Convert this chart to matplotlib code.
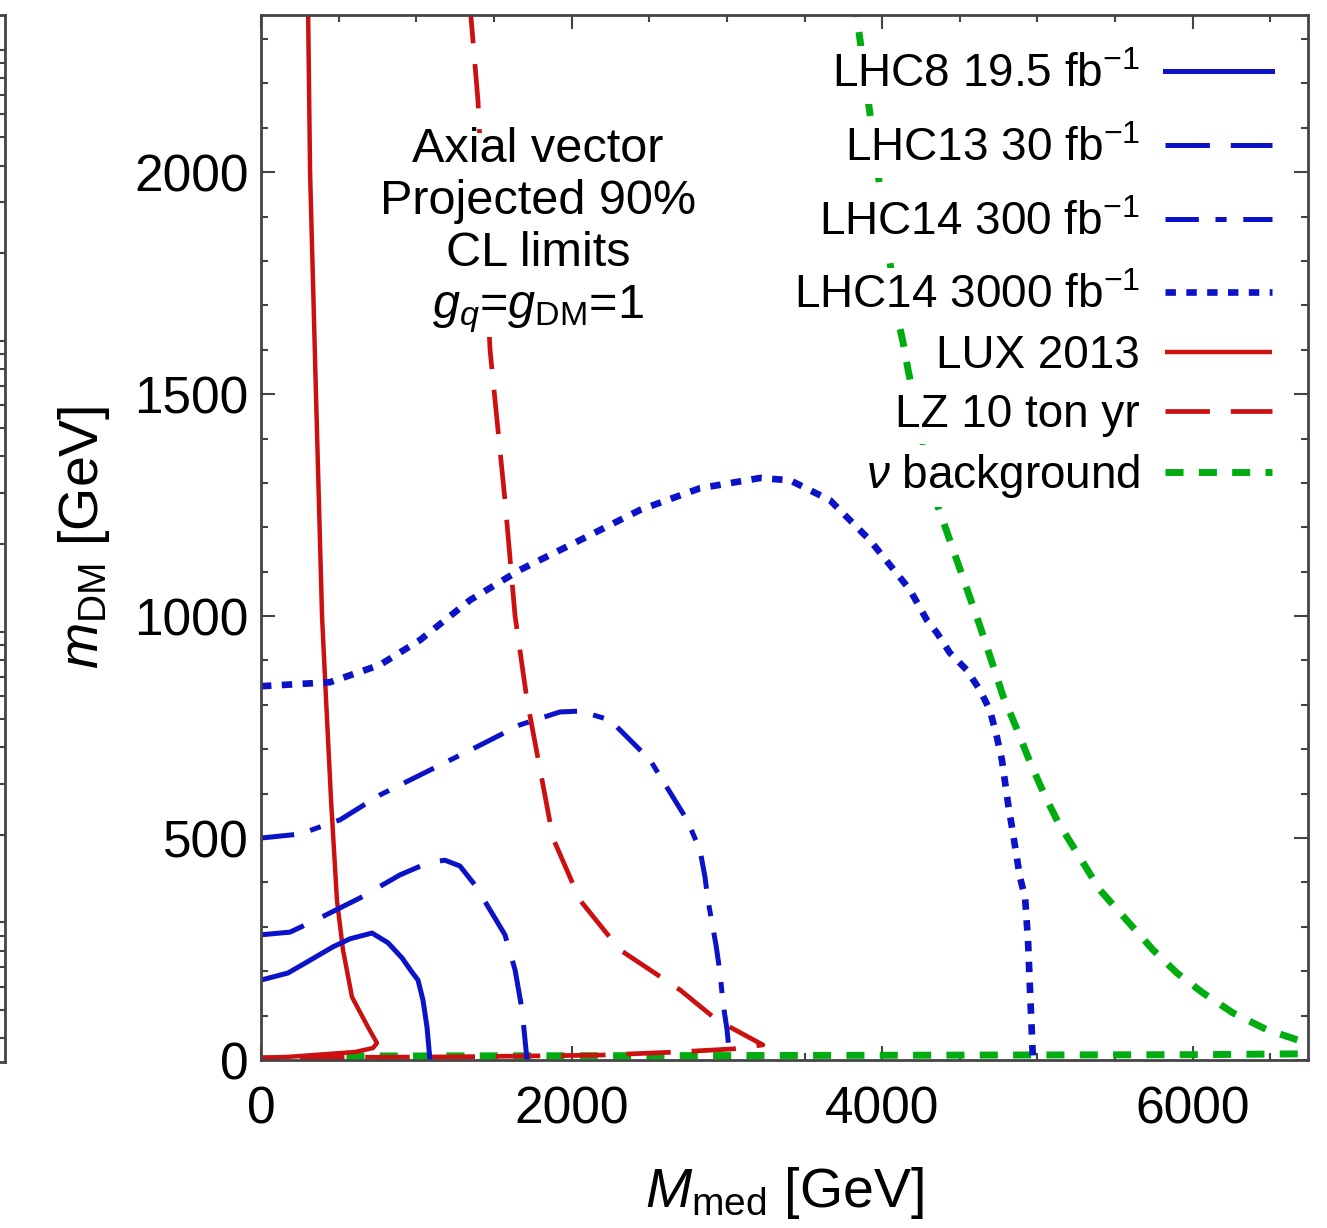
import matplotlib
matplotlib.use('Agg')
import matplotlib.pyplot as plt
from matplotlib.ticker import MultipleLocator, NullFormatter
import numpy as np

plt.rcParams['font.family'] = ['Liberation Sans', 'DejaVu Sans']
plt.rcParams['mathtext.fontset'] = 'custom'
plt.rcParams['mathtext.rm'] = 'Liberation Sans'
plt.rcParams['mathtext.it'] = 'Liberation Sans:italic'
plt.rcParams['mathtext.bf'] = 'Liberation Sans:bold'
plt.rcParams['lines.scale_dashes'] = False

## contour data (M_med, m_DM) in GeV

# LHC8 19.5 fb^-1
lhc8_x = [0, 174, 283, 464, 573, 715, 818, 908, 972, 1011, 1043, 1069, 1088]
lhc8_y = [180, 196, 218, 255, 273, 286, 264, 230, 198, 180, 135, 74, 0]

# LHC13 30 fb^-1
lhc13_x = [0, 187, 380, 637, 895, 1088, 1185, 1281, 1378, 1475, 1571, 1636, 1681, 1713]
lhc13_y = [282, 288, 320, 365, 417, 446, 450, 437, 394, 338, 282, 203, 113, 0]

# LHC14 300 fb^-1
lhc14a_x = [0, 251, 509, 766, 1088, 1410, 1668, 1925, 2054, 2247, 2505, 2743, 2827,
            2859, 2878, 2930, 2956, 2975, 3001, 3020]
lhc14a_y = [500, 509, 541, 597, 653, 709, 755, 784, 786, 766, 676, 541, 473,
            412, 360, 259, 196, 128, 68, 0]

# LHC14 3000 fb^-1
lhc14b_x = [0, 444, 766, 1024, 1346, 1668, 2054, 2440, 2827, 3213, 3406, 3664, 3921,
            4179, 4288, 4353, 4436, 4546, 4630, 4694, 4739, 4771, 4810, 4842, 4887,
            4920, 4939, 4952, 4971]
lhc14b_y = [842, 851, 890, 946, 1036, 1104, 1171, 1239, 1288, 1311, 1306, 1261, 1171,
            1059, 991, 962, 917, 878, 833, 788, 727, 676, 579, 511, 412,
            367, 270, 158, 0]

# LUX 2013
lux_x = [302, 316, 354, 393, 419, 451, 489, 528, 586, 689, 747, 721, 605, 174, 0]
lux_y = [2400, 2000, 1500, 1000, 811, 586, 360, 248, 142, 74, 38, 27, 18, 7, 5]

# LZ 10 ton yr
lz_x = [1340, 1397, 1475, 1571, 1636, 1713, 1880, 2054, 2312, 2698, 2936, 3232,
        3039, 2679, 2183, 1217, 0]
lz_y = [2400, 2162, 1599, 1261, 1000, 811, 500, 360, 248, 158, 90, 34,
        25, 18, 11, 7, 5]

# neutrino background, upper and lower branch
nu_x = [3818, 4096, 4134, 4166, 4327, 4630, 4707, 4778, 4868, 4952, 5048, 5132,
        5402, 5744, 5898, 6066, 6259, 6478, 6677, 6760]
nu_y = [2400, 1678, 1617, 1556, 1279, 977, 896, 820, 745, 671, 595, 536,
        383, 248, 196, 151, 106, 68, 45, 40]
nu_low_x = [550, 3000, 6000, 6760]
nu_low_y = [9, 10, 12, 14]

labels = [r'LHC8 19.5 fb$^{-1}$', r'LHC13 30 fb$^{-1}$', r'LHC14 300 fb$^{-1}$',
          r'LHC14 3000 fb$^{-1}$', 'LUX 2013', 'LZ 10 ton yr', r'$\nu$ background']

blue = '#0b12c8'
red = '#cc1010'
green = '#00ad10'

fig = plt.figure(figsize=(13.27, 12.28), dpi=100)
ax = fig.add_axes([261/1327, 1 - 1060/1228, 1047/1327, 1045/1228])

# neighbouring panel, only its right edge shows
axl = fig.add_axes([-0.1, 1 - 1062/1228, 0.1 + 5/1327, 1047/1228])
axl.set_yscale('log')
axl.set_ylim(10**-2.48, 10**1.12)
axl.set_xticks([])
axl.spines['left'].set_visible(False)
for s in axl.spines.values():
    s.set_linewidth(2)
    s.set_color('#444444')
axl.yaxis.tick_right()
axl.tick_params(axis='y', which='both', direction='in', color='#444444',
                labelright=False, width=1.5)
axl.tick_params(axis='y', which='major', length=9)
axl.tick_params(axis='y', which='minor', length=5)
axl.yaxis.set_minor_formatter(NullFormatter())

gn, = ax.plot(nu_x, nu_y, color=green, lw=5, dashes=(13, 11), dash_capstyle='butt',
              label=labels[6])
ax.plot(nu_low_x, nu_low_y, color=green, lw=5, dashes=(13, 11), dash_capstyle='butt')
lx, = ax.plot(lux_x, lux_y, color=red, lw=3.2, solid_capstyle='butt', label=labels[4])
lz, = ax.plot(lz_x, lz_y, color=red, lw=3.4, dashes=(32, 15), dash_capstyle='butt',
              label=labels[5])
l8, = ax.plot(lhc8_x, lhc8_y, color=blue, lw=3.6, label=labels[0])
l13, = ax.plot(lhc13_x, lhc13_y, color=blue, lw=3.6, dashes=(32, 15),
               dash_capstyle='butt', label=labels[1])
l14a, = ax.plot(lhc14a_x, lhc14a_y, color=blue, lw=3.6, dashes=(24, 12, 8, 12),
                dash_capstyle='butt', label=labels[2])
l14b, = ax.plot(lhc14b_x, lhc14b_y, color=blue, lw=4.8, dashes=(7.5, 7.5),
                dash_capstyle='butt', label=labels[3])

ax.set_xlim(0, 6742)
ax.set_ylim(0, 2354)
ax.xaxis.set_major_locator(MultipleLocator(2000))
ax.xaxis.set_minor_locator(MultipleLocator(500))
ax.yaxis.set_major_locator(MultipleLocator(500))
ax.yaxis.set_minor_locator(MultipleLocator(100))
ax.tick_params(which='both', direction='in', top=True, right=True, color='#444444',
               width=1.5, labelsize=37)
ax.tick_params(which='major', length=10)
ax.tick_params(which='minor', length=5)
ax.tick_params(axis='x', pad=18)
ax.tick_params(axis='y', pad=9)
for s in ax.spines.values():
    s.set_linewidth(2)
    s.set_color('#444444')

ax.set_xlabel(r'$M_{\mathrm{med}}$ [GeV]', fontsize=40, labelpad=22)
ax.set_ylabel(r'$m_{\mathrm{DM}}$ [GeV]', fontsize=40, labelpad=16)

ax.text(0.2646, 0.793, 'Axial vector\nProjected 90%\nCL limits\n$g_q$=$g_{\\mathrm{DM}}$=1',
        transform=ax.transAxes, ha='center', va='center', fontsize=35,
        linespacing=1.2, zorder=4,
        bbox=dict(facecolor='white', edgecolor='none', pad=1))

# legend in two blocks: the collider rows sit further apart
leg_kw = dict(loc='upper right', frameon=False, markerfirst=False, fontsize=33,
              handlelength=2.33, handletextpad=0.55, borderpad=0, borderaxespad=0)
leg1 = ax.legend(handles=[l8, l13, l14a, l14b], bbox_to_anchor=(0.9656, 0.9636),
                 labelspacing=0.65, **leg_kw)
ax.add_artist(leg1)
leg2 = ax.legend(handles=[lx, lz, gn], bbox_to_anchor=(0.9656, 0.6947),
                 labelspacing=0.33, **leg_kw)
for leg in (leg1, leg2):
    for t in leg.get_texts():
        t.set_bbox(dict(facecolor='white', edgecolor='none', pad=5))

fig.savefig('out.png', dpi=100)
